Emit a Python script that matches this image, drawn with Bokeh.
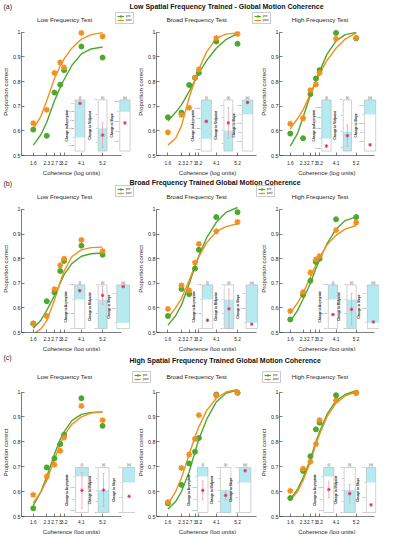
import math
from bokeh.plotting import figure
from bokeh.layouts import column, row
from bokeh.models import Range1d, FixedTicker, PrintfTickFormatter, Legend, LegendItem, Title
from bokeh.core.properties import value
from bokeh.embed import file_html
from bokeh.resources import INLINE

# ---------------- data ----------------
coherence = [1.6, 2.3, 2.7, 3.0, 3.2, 4.1, 5.2]
fit_x = [1.6, 2.0, 2.3, 2.7, 3.0, 3.2, 3.6, 4.1, 4.6, 5.2]
y_ticks = [0.5, 0.6, 0.7, 0.8, 0.9, 1.0]

row_labels = ["(a)", "(b)", "(c)"]
row_titles = ["Low Spatial Frequency Trained - Global Motion Coherence",
              "Broad Frequency Trained Global Motion Coherence",
              "High Spatial Frequency Trained Global Motion Coherence"]
test_titles = ["Low  Frequency Test", "Broad  Frequency Test", "High  Frequency Test"]
panel_titles = ["(i)", "(ii)", "(iii)"]
panel_ylabels = ["Change in Asymptote", "Change in Midpoint", "Change in Slope"]
series_names = ["pre", "post"]
shade_dir = [1, -1, 1]

# row (a) low SF trained
a_low_pre = [0.605, 0.580, 0.755, 0.787, 0.846, 0.942, 0.897]
a_low_post = [0.631, 0.685, 0.835, 0.877, 0.857, 0.997, 0.983]
a_low_pre_fit = [0.542, 0.585, 0.635, 0.722, 0.776, 0.808, 0.865, 0.912, 0.932, 0.940]
a_low_post_fit = [0.608, 0.660, 0.722, 0.812, 0.864, 0.892, 0.935, 0.972, 0.990, 0.998]
a_broad_pre = [0.655, 0.674, 0.786, 0.815, 0.835, 0.962, 0.953]
a_broad_post = [0.594, 0.665, 0.694, 0.816, 0.849, 0.976, 0.993]
a_broad_pre_fit = [0.640, 0.675, 0.705, 0.760, 0.805, 0.835, 0.885, 0.935, 0.970, 0.995]
a_broad_post_fit = [0.542, 0.570, 0.620, 0.735, 0.805, 0.850, 0.920, 0.975, 0.992, 0.997]
a_high_pre = [0.589, 0.570, 0.749, 0.812, 0.846, 0.997, 0.975]
a_high_post = [0.629, 0.651, 0.765, 0.788, 0.835, 0.973, 0.977]
a_high_pre_fit = [0.538, 0.590, 0.655, 0.745, 0.805, 0.840, 0.910, 0.965, 0.990, 0.999]
a_high_post_fit = [0.608, 0.650, 0.685, 0.750, 0.798, 0.832, 0.885, 0.935, 0.972, 0.997]

# row (b) broad SF trained
b_low_pre = [0.536, 0.627, 0.663, 0.750, 0.791, 0.853, 0.816]
b_low_post = [0.537, 0.567, 0.676, 0.773, 0.800, 0.876, 0.831]
b_low_pre_fit = [0.518, 0.550, 0.590, 0.650, 0.700, 0.735, 0.780, 0.810, 0.820, 0.823]
b_low_post_fit = [0.494, 0.515, 0.548, 0.632, 0.705, 0.750, 0.808, 0.836, 0.845, 0.847]
b_broad_pre = [0.567, 0.677, 0.656, 0.760, 0.836, 0.969, 0.989]
b_broad_post = [0.596, 0.691, 0.671, 0.784, 0.860, 0.911, 0.949]
b_broad_pre_fit = [0.530, 0.568, 0.612, 0.698, 0.768, 0.812, 0.885, 0.948, 0.988, 1.008]
b_broad_post_fit = [0.560, 0.600, 0.638, 0.712, 0.772, 0.808, 0.865, 0.910, 0.930, 0.942]
b_high_pre = [0.553, 0.653, 0.710, 0.787, 0.800, 0.960, 0.969]
b_high_post = [0.587, 0.664, 0.744, 0.797, 0.810, 0.916, 0.947]
b_high_pre_fit = [0.545, 0.590, 0.635, 0.700, 0.760, 0.795, 0.860, 0.920, 0.955, 0.970]
b_high_post_fit = [0.580, 0.620, 0.660, 0.725, 0.775, 0.805, 0.855, 0.895, 0.920, 0.935]

# row (c) high SF trained
c_low_pre = [0.533, 0.697, 0.733, 0.791, 0.828, 0.975, 0.864]
c_low_post = [0.587, 0.661, 0.708, 0.764, 0.817, 0.944, 0.887]
c_low_pre_fit = [0.545, 0.600, 0.660, 0.750, 0.810, 0.840, 0.885, 0.910, 0.918, 0.920]
c_low_post_fit = [0.555, 0.600, 0.645, 0.730, 0.790, 0.825, 0.870, 0.900, 0.915, 0.920]
c_broad_pre = [0.553, 0.627, 0.713, 0.760, 0.815, 0.990, 0.997]
c_broad_post = [0.558, 0.695, 0.749, 0.811, 0.907, 0.987, 0.997]
c_broad_pre_fit = [0.530, 0.560, 0.600, 0.680, 0.760, 0.810, 0.890, 0.960, 0.995, 1.008]
c_broad_post_fit = [0.550, 0.600, 0.655, 0.750, 0.820, 0.860, 0.925, 0.975, 1.000, 1.010]
c_high_pre = [0.574, 0.683, 0.742, 0.850, 0.877, 0.987, 0.997]
c_high_post = [0.603, 0.692, 0.720, 0.791, 0.887, 0.966, 0.996]
c_high_pre_fit = [0.570, 0.610, 0.655, 0.730, 0.800, 0.840, 0.910, 0.965, 0.990, 1.005]
c_high_post_fit = [0.565, 0.600, 0.645, 0.720, 0.790, 0.830, 0.900, 0.955, 0.985, 1.000]

# inset panels (asymptote, midpoint, slope): axis limits, mean change, error
a_low_lo = [-0.04, -8, -0.2];   a_low_hi = [0.11, 10, 0.06]
a_low_chg = [0.10, -2.4, -0.057];  a_low_err = [0.004, 4.5, 0.005]
a_broad_lo = [-0.03, -8, -0.2]; a_broad_hi = [0.095, 12, 0.08]
a_broad_chg = [0.0425, 3.0, 0.066]; a_broad_err = [0.003, 6.0, 0.004]
a_high_lo = [-0.03, -6, -0.2];  a_high_hi = [0.0925, 10, 0.08]
a_high_chg = [-0.018, -1.2, -0.166]; a_high_err = [0.003, 3.4, 0.005]

b_low_lo = [-0.1, -10, -0.02];  b_low_hi = [0.05, 5, 0.13]
b_low_chg = [0.03, 1.4, 0.124]; b_low_err = [0.004, 3.1, 0.002]
b_broad_lo = [-0.1, -10, -0.02]; b_broad_hi = [0.05, 5, 0.13]
b_broad_chg = [-0.0715, -3.25, -0.005]; b_broad_err = [0.004, 6.8, 0.002]
b_high_lo = [-0.1, -10, -0.02]; b_high_hi = [0.05, 5, 0.13]
b_high_chg = [-0.052, -3.4, 0.0025]; b_high_err = [0.003, 5.4, 0.002]

c_low_lo = [-0.16, -10, -0.2];  c_low_hi = [0.04, 10, 0.1]
c_low_chg = [-0.062, 0.0, -0.092]; c_low_err = [0.08, 7.4, 0.005]
c_broad_lo = [-0.16, -10, -0.2]; c_broad_hi = [0.04, 10, 0.1]
c_broad_chg = [-0.062, -2.4, 0.079]; c_broad_err = [0.042, 2.0, 0.004]
c_high_lo = [-0.16, -10, -0.2]; c_high_hi = [0.04, 10, 0.1]
c_high_chg = [-0.058, -1.6, -0.149]; c_high_err = [0.037, 4.1, 0.005]

a_inset_ticks = [[-0.025, 0, 0.025, 0.05, 0.075, 0.1], [-5, 0, 5, 10], [-0.15, -0.1, -0.05, 0, 0.05]]
b_inset_ticks = [[-0.1, -0.05, 0, 0.05], [-10, -5, 0, 5], [0, 0.05, 0.1]]
c_inset_ticks = [[-0.15, -0.1, -0.05, 0], [-10, -5, 0, 5, 10], [-0.2, -0.1, 0, 0.1]]

# ---------------- styling / layout ----------------
FONT = "Liberation Sans"
INK = "#262626"
GREEN = "#4ea72e"
ORANGE = "#f0901e"
CYAN = "#b5eaf0"
RED = "#e0305a"
PINK = "#f29aae"
NAN = float("nan")

X_LO, X_HI = 1.0, 6.2          # extent of the drawn x axis line

def mx(c, X):
    """reference-image x -> layout x, per column"""
    if c == 0:
        return X
    if c == 1:
        return X - 5
    return 258 + (X - 268) * 0.975

ROW_SHIFT = [0, 6, 15]

def my(r, Y):
    return Y - ROW_SHIFT[r]

COL_FIG = [(0, 135), (135, 258), (258, 379)]
COL_REF = [(31, 101.5), (168, 241), (296, 367)]     # ref x of 1.6 and 5.2
ROW_REF = [(31.7, 156), (215, 339), (407, 531.5)]   # ref y of 1.0 and 0.5
ROW_SPAN = [(0, 176), (176, 351), (351, 534)]       # row top / bottom in layout
TICK_STANDOFF = [5, 4, 3]
XTITLE_STANDOFF = [1, 0, 0]
# ref y of: row label, row title, test titles, legend top
HEADER_YREF = [(6, 6, 19, 14), (189, 188, 202, 193), (372, 375, 391, 388)]
LEGEND_XREF = [[115, 252], [115, 256], [132, 262]]
TITLE_XREF = [65, 202, 332]
XLABEL_XREF = [69, 207, 333]
INSET_XREF = [
    [[(73.5, 83.5), (97, 106), (119, 129.5)], [(203, 213.5), (226.7, 236), (246, 257)], [(330, 340), (353, 362), (376, 388)]],
    [[(73, 83.5), (97, 106), (116, 129)], [(204, 215), (227, 237), (250, 262)], [(337, 347), (357, 367), (379, 392)]],
    [[(74, 87), (97, 108), (122, 135)], [(199, 210), (223, 234), (243, 255)], [(332, 343), (354, 366), (378, 388)]],
]
INSET_YREF = [(100, 151.5), (291, 335), (482, 527)]
XLABEL_EM = 9.56

SUB = {
    (0, 0): (a_low_pre, a_low_post, a_low_pre_fit, a_low_post_fit, a_low_lo, a_low_hi, a_low_chg, a_low_err),
    (0, 1): (a_broad_pre, a_broad_post, a_broad_pre_fit, a_broad_post_fit, a_broad_lo, a_broad_hi, a_broad_chg, a_broad_err),
    (0, 2): (a_high_pre, a_high_post, a_high_pre_fit, a_high_post_fit, a_high_lo, a_high_hi, a_high_chg, a_high_err),
    (1, 0): (b_low_pre, b_low_post, b_low_pre_fit, b_low_post_fit, b_low_lo, b_low_hi, b_low_chg, b_low_err),
    (1, 1): (b_broad_pre, b_broad_post, b_broad_pre_fit, b_broad_post_fit, b_broad_lo, b_broad_hi, b_broad_chg, b_broad_err),
    (1, 2): (b_high_pre, b_high_post, b_high_pre_fit, b_high_post_fit, b_high_lo, b_high_hi, b_high_chg, b_high_err),
    (2, 0): (c_low_pre, c_low_post, c_low_pre_fit, c_low_post_fit, c_low_lo, c_low_hi, c_low_chg, c_low_err),
    (2, 1): (c_broad_pre, c_broad_post, c_broad_pre_fit, c_broad_post_fit, c_broad_lo, c_broad_hi, c_broad_chg, c_broad_err),
    (2, 2): (c_high_pre, c_high_post, c_high_pre_fit, c_high_post_fit, c_high_lo, c_high_hi, c_high_chg, c_high_err),
}
TICKS = [a_inset_ticks, b_inset_ticks, c_inset_ticks]


def col_scale(c):
    X16, X52 = COL_REF[c]
    x16, x52 = mx(c, X16), mx(c, X52)
    return x16, (x52 - x16) / 3.6


def row_geom(r):
    Y1, Y05 = ROW_REF[r]
    y1, y05 = my(r, Y1), my(r, Y05)
    ppy = (y05 - y1) / 0.5
    frtop = int(round(y1 - 0.015 * ppy))
    frbot = int(round(y05))
    return ROW_SPAN[r][0], frtop, y1, frbot, ROW_SPAN[r][1], ppy


def make_header(r):
    htop, frtop = row_geom(r)[0], row_geom(r)[1]
    H = frtop - htop
    h = figure(width=379, height=H, x_range=Range1d(0, 379), y_range=Range1d(H, 0),
               toolbar_location=None, output_backend="svg", min_border=0,
               x_axis_location=None, y_axis_location=None)
    h.grid.visible = False
    h.outline_line_color = None
    ly, ty, sty, legy = [my(r, v) - htop for v in HEADER_YREF[r]]
    h.text(x=[3], y=[ly], text=[row_labels[r]], text_font=value(FONT), text_font_size="7px",
           text_color=INK, text_baseline="middle", text_align="left")
    h.text(x=[129], y=[ty], text=[row_titles[r]], text_font=value(FONT), text_font_size="7px",
           text_font_style="bold", text_color="#111111", text_baseline="middle", text_align="left")
    cxs = [mx(c, TITLE_XREF[c]) for c in range(3)]
    h.text(x=cxs, y=[sty] * 3, text=test_titles, text_font=value(FONT), text_font_size="6.2px",
           text_color=INK, text_baseline="middle", text_align="center")
    gl = h.line(x=[NAN], y=[NAN], line_color=GREEN, line_width=1.2)
    gs = h.scatter(x=[NAN], y=[NAN], marker="circle", size=4, fill_color=GREEN, line_color=GREEN)
    ol = h.line(x=[NAN], y=[NAN], line_color=ORANGE, line_width=1.2)
    os_ = h.scatter(x=[NAN], y=[NAN], marker="asterisk", size=4, line_color=ORANGE, line_width=1.2)
    for xref in LEGEND_XREF[r]:
        leg = Legend(items=[LegendItem(label=series_names[0], renderers=[gl, gs]),
                            LegendItem(label=series_names[1], renderers=[ol, os_])],
                     location=(xref, H - legy - 10), orientation="vertical",
                     padding=1, spacing=0, margin=0, glyph_width=7, glyph_height=4,
                     label_height=4, label_width=5, label_standoff=2,
                     label_text_font=FONT, label_text_font_size="3px", label_text_color=INK,
                     border_line_color="#9a9a9a", border_line_width=0.5,
                     background_fill_color="white", background_fill_alpha=1.0)
        h.add_layout(leg)
    return h


def make_subplot(r, c):
    pre, post, pre_fit, post_fit, lo, hi, chg, err = SUB[(r, c)]
    fl, fr = COL_FIG[c]
    x16, ppu = col_scale(c)
    frame_left = int(round(x16 - (1.6 - X_LO) * ppu))
    htop, frtop, y1, frbot, fbot, ppy = row_geom(r)
    W, H = fr - fl, fbot - frtop
    xs = 1.6 - (x16 - frame_left) / ppu
    xe = 1.6 + (fr - x16) / ppu
    ye = 0.5 + (frbot - frtop) / ppy
    p = figure(width=W, height=H, x_range=Range1d(xs, xe), y_range=Range1d(0.5, ye),
               toolbar_location=None, output_backend="svg", title=None,
               min_border_left=frame_left - fl, min_border_right=0,
               min_border_top=0, min_border_bottom=fbot - frbot)
    p.grid.visible = False
    p.outline_line_color = None
    p.background_fill_color = "white"

    p.xaxis.ticker = FixedTicker(ticks=coherence)
    p.xaxis.formatter = PrintfTickFormatter(format="%g")
    p.xaxis.bounds = (X_LO, X_HI)
    p.yaxis.ticker = FixedTicker(ticks=y_ticks)
    p.yaxis.formatter = PrintfTickFormatter(format="%g")
    p.yaxis.bounds = (0.5, 1.0)
    for ax in (p.xaxis[0], p.yaxis[0]):
        ax.axis_line_color = INK
        ax.axis_line_width = 0.6
        ax.major_tick_in = 3
        ax.major_tick_out = 0
        ax.minor_tick_in = 0
        ax.minor_tick_out = 0
        ax.major_tick_line_color = INK
        ax.major_tick_line_width = 0.6
        ax.major_label_text_font = FONT
        ax.major_label_text_color = INK
    p.xaxis.major_label_text_font_size = "4.8px"
    p.yaxis.major_label_text_font_size = "5.4px"
    p.xaxis.major_label_standoff = TICK_STANDOFF[r]
    p.yaxis.major_label_standoff = 1
    p.yaxis.axis_label = "Proportion correct"
    p.yaxis.axis_label_text_font = FONT
    p.yaxis.axis_label_text_font_size = "6px"
    p.yaxis.axis_label_text_font_style = "normal"
    p.yaxis.axis_label_text_color = INK
    p.yaxis.axis_label_standoff = 1
    xlw = XLABEL_EM * 6.0
    cxl = mx(c, XLABEL_XREF[c])
    p.add_layout(Title(text="Coherence (log units)", align="left", offset=cxl - xlw / 2 - frame_left,
                       text_font=FONT, text_font_size="6px", text_font_style="normal",
                       text_color=INK, standoff=XTITLE_STANDOFF[r]), "below")

    p.line(fit_x, pre_fit, line_color=GREEN, line_width=1.4)
    p.line(fit_x, post_fit, line_color=ORANGE, line_width=1.4)
    p.scatter(coherence, pre, marker="circle", size=5, fill_color=GREEN, line_color=GREEN)
    p.scatter(coherence, post, marker="asterisk", size=6, line_color=ORANGE, line_width=1.5)

    fw = fr - frame_left
    fh = frbot - frtop
    yt_ref, yb_ref = INSET_YREF[r]
    xr_d, yr_d = {}, {}
    for k in range(3):
        lref, rref = INSET_XREF[r][c][k]
        bl, br = mx(c, lref) - frame_left, mx(c, rref) - frame_left
        s = -bl / (br - bl)
        xr_d["ix%d" % k] = Range1d(s, s + fw / (br - bl))
        bb, bt = frbot - my(r, yb_ref), frbot - my(r, yt_ref)
        span = (hi[k] - lo[k]) / (bt - bb)
        s2 = lo[k] - bb * span
        yr_d["iy%d" % k] = Range1d(s2, s2 + fh * span)
    p.extra_x_ranges = xr_d
    p.extra_y_ranges = yr_d
    for k in range(3):
        kw = dict(x_range_name="ix%d" % k, y_range_name="iy%d" % k)
        p.quad(left=[0], right=[1], bottom=[lo[k]], top=[hi[k]], fill_color="white", line_color=None, **kw)
        if shade_dir[k] > 0:
            p.quad(left=[0], right=[1], bottom=[0], top=[hi[k]], fill_color=CYAN, line_color=None, **kw)
        else:
            p.quad(left=[0], right=[1], bottom=[lo[k]], top=[0], fill_color=CYAN, line_color=None, **kw)
        p.quad(left=[0], right=[1], bottom=[lo[k]], top=[hi[k]], fill_color=None,
               line_color="#b4b4b4", line_width=0.6, **kw)
        e0, e1 = max(chg[k] - err[k], lo[k]), min(chg[k] + err[k], hi[k])
        p.segment(x0=[0.5], y0=[e0], x1=[0.5], y1=[e1], line_color=PINK, line_width=0.8, **kw)
        p.scatter(x=[0.5, 0.5], y=[e0, e1], marker="dash", size=2.5, line_color=PINK, line_width=0.6, **kw)
        p.scatter(x=[0.5], y=[chg[k]], marker="asterisk", size=3.5, line_color=RED, line_width=0.9, **kw)
        tk = [t for t in TICKS[r][k] if lo[k] <= t <= hi[k]]
        p.text(x=[0] * len(tk), y=tk, text=["%g" % t for t in tk], x_offset=-1, text_align="right",
               text_baseline="middle", text_font=value(FONT), text_font_size="2.2px",
               text_color="#555555", **kw)
        p.text(x=[0], y=[(lo[k] + hi[k]) / 2], text=[panel_ylabels[k]], x_offset=-8.5, angle=math.pi / 2,
               text_align="center", text_baseline="middle", text_font=value(FONT), text_font_size="3.1px",
               text_font_style="bold", text_color="#222222", **kw)
        p.text(x=[0.5], y=[hi[k]], text=[panel_titles[k]], y_offset=-1, text_align="center",
               text_baseline="bottom", text_font=value(FONT), text_font_size="3px",
               text_color="#333333", **kw)
    return p


rows = []
for r in range(3):
    rows.append(make_header(r))
    rows.append(row(*[make_subplot(r, c) for c in range(3)]))
layout = column(*rows)

open("out.html", "w").write(file_html(layout, INLINE))
